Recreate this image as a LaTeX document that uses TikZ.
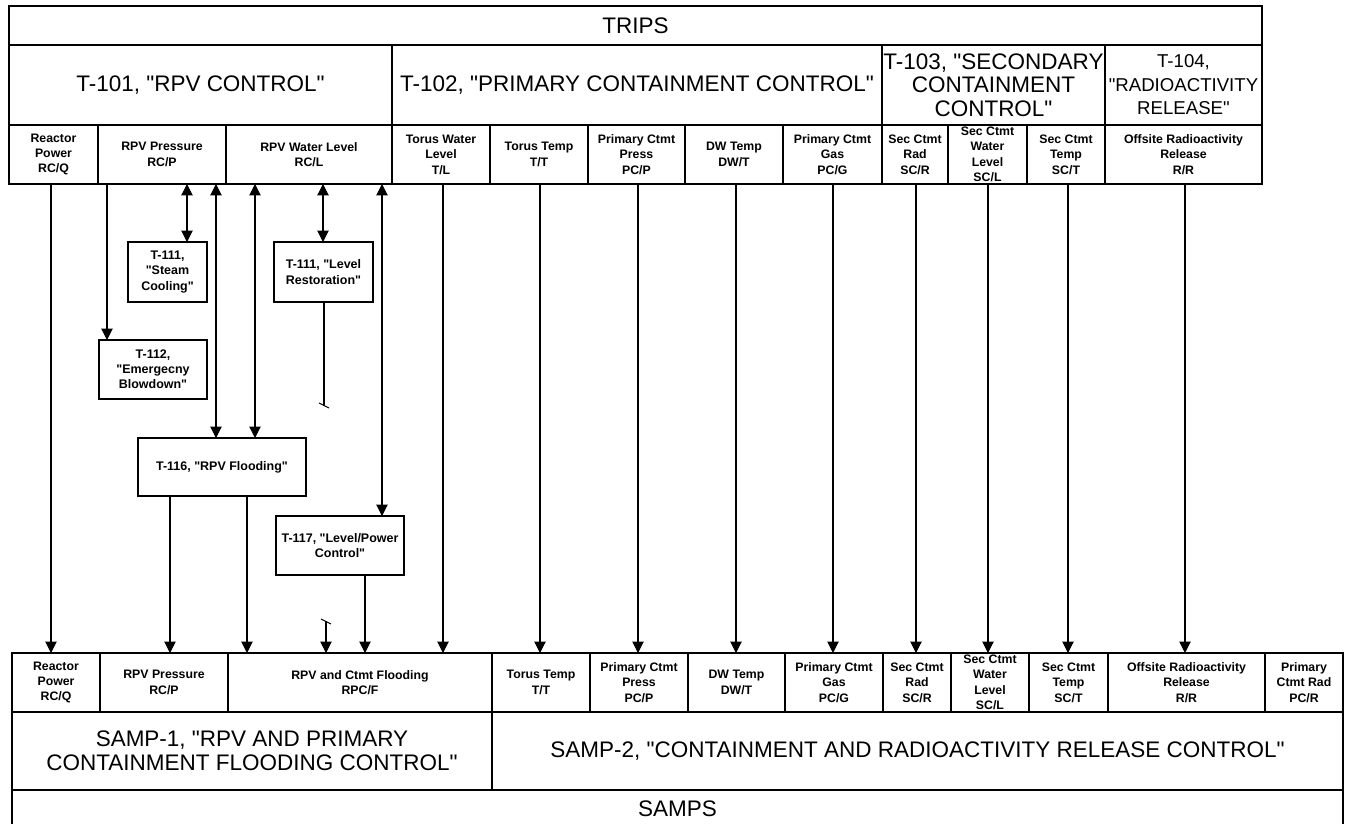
\documentclass[tikz,border=0pt]{standalone}
\usepackage{fontspec}
\setmainfont{Liberation Sans}[Ligatures=TeXOff]
\usetikzlibrary{arrows.meta}
\newcommand{\Cell}[7]{%
  \node[cellb, minimum width={(#5-#3)*0.02cm}, minimum height={(#6-#4)*0.02cm}] (#2) at ({(#3+#5)/2},{(#4+#6)/2}) {};
  \node[#1] (#2-t) at (#2.center) {#7};
}
\tikzset{
 cellb/.style={draw, line width=0.7pt, inner sep=0pt, outer sep=0pt},
 big/.style={font=\fontsize{12.8}{13.4}\selectfont, align=center, inner sep=0pt},
 bigs/.style={font=\fontsize{10.6}{13.4}\selectfont, align=center, inner sep=0pt},
 sm/.style={font=\bfseries\fontsize{7}{8.8}\selectfont, align=center, inner sep=0pt},
 mid/.style={font=\bfseries\fontsize{7.1}{8.6}\selectfont, align=center, inner sep=0pt},
 conn/.style={line width=0.6pt},
 arr/.style={conn, -{Triangle[length=6.5pt,width=6.5pt]}},
 darr/.style={conn, {Triangle[length=6.5pt,width=6.5pt]}-{Triangle[length=6.5pt,width=6.5pt]}},
}
\begin{document}
\begin{tikzpicture}[x=0.02cm, y=-0.02cm]
\useasboundingbox[fill=white] (0,0) rectangle (1347,824);
% ---- top table
\Cell{big}{TRIPS}{9}{6}{1262}{45}{TRIPS}
\Cell{big}{T101}{9}{45}{392}{125}{T-101, "RPV CONTROL"}
\Cell{big}{T102}{392}{45}{882}{125}{T-102, "PRIMARY CONTAINMENT CONTROL"}
\Cell{big}{T103}{882}{45}{1105}{125}{T-103, "SECONDARY\\CONTAINMENT\\CONTROL"}
\Cell{bigs}{T104}{1105}{45}{1262}{125}{T-104,\\"RADIOACTIVITY\\RELEASE"}
\Cell{sm}{RQ}{9}{125}{98}{184}{Reactor\\Power\\RC/Q}
\Cell{sm}{RP}{98}{125}{226}{184}{RPV Pressure\\RC/P}
\Cell{sm}{RL}{226}{125}{392}{184}{RPV Water Level\\RC/L}
\Cell{sm}{TL}{392}{125}{490}{184}{Torus Water\\Level\\T/L}
\Cell{sm}{TT}{490}{125}{588}{184}{Torus Temp\\T/T}
\Cell{sm}{PCP}{588}{125}{685}{184}{Primary Ctmt\\Press\\PC/P}
\Cell{sm}{DWT}{685}{125}{783}{184}{DW Temp\\DW/T}
\Cell{sm}{PCG}{783}{125}{882}{184}{Primary Ctmt\\Gas\\PC/G}
\Cell{sm}{SCR}{882}{125}{948}{184}{Sec Ctmt\\Rad\\SC/R}
\Cell{sm}{SCL}{948}{125}{1027}{184}{Sec Ctmt\\Water\\Level\\SC/L}
\Cell{sm}{SCT}{1027}{125}{1105}{184}{Sec Ctmt\\Temp\\SC/T}
\Cell{sm}{RR}{1105}{125}{1262}{184}{Offsite Radioactivity\\Release\\R/R}
% ---- bottom table
\Cell{sm}{bRQ}{12}{653}{100}{712}{Reactor\\Power\\RC/Q}
\Cell{sm}{bRP}{100}{653}{228}{712}{RPV Pressure\\RC/P}
\Cell{sm}{bFL}{228}{653}{492}{712}{RPV and Ctmt Flooding\\RPC/F}
\Cell{sm}{bTT}{492}{653}{590}{712}{Torus Temp\\T/T}
\Cell{sm}{bPCP}{590}{653}{688}{712}{Primary Ctmt\\Press\\PC/P}
\Cell{sm}{bDWT}{688}{653}{785}{712}{DW Temp\\DW/T}
\Cell{sm}{bPCG}{785}{653}{883}{712}{Primary Ctmt\\Gas\\PC/G}
\Cell{sm}{bSCR}{883}{653}{951}{712}{Sec Ctmt\\Rad\\SC/R}
\Cell{sm}{bSCL}{951}{653}{1029}{712}{Sec Ctmt\\Water\\Level\\SC/L}
\Cell{sm}{bSCT}{1029}{653}{1108}{712}{Sec Ctmt\\Temp\\SC/T}
\Cell{sm}{bRR}{1108}{653}{1265}{712}{Offsite Radioactivity\\Release\\R/R}
\Cell{sm}{bPCR}{1265}{653}{1343}{712}{Primary\\Ctmt Rad\\PC/R}
\Cell{big}{SAMP1}{12}{712}{492}{790}{SAMP-1, "RPV AND PRIMARY\\CONTAINMENT FLOODING CONTROL"}
\Cell{big}{SAMP2}{492}{712}{1343}{790}{SAMP-2, "CONTAINMENT AND RADIOACTIVITY RELEASE CONTROL"}
\Cell{big}{SAMPS}{12}{790}{1343}{828}{SAMPS}
% ---- middle boxes
\Cell{mid}{T111a}{128}{242}{207}{302}{T-111,\\"Steam\\Cooling"}
\Cell{mid}{T111b}{274}{242}{373}{302}{T-111, "Level\\Restoration"}
\Cell{mid}{T112}{99}{340}{207}{399}{T-112,\\"Emergecny\\Blowdown"}
\Cell{mid}{T116}{138}{438}{306}{496}{T-116, "RPV Flooding"}
\Cell{mid}{T117}{276}{516}{404}{575}{T-117, "Level/Power\\Control"}
% ---- column coordinates
\coordinate (xRQ) at (51,0);
\coordinate (xTL) at (443,0);
\coordinate (xTT) at (540,0);
\coordinate (xPCP) at (638,0);
\coordinate (xDWT) at (736,0);
\coordinate (xPCG) at (833,0);
\coordinate (xSCR) at (916,0);
\coordinate (xSCL) at (988,0);
\coordinate (xSCT) at (1068,0);
\coordinate (xRR) at (1185,0);
\coordinate (xA) at (107,0);
\coordinate (xB) at (187,0);
\coordinate (xC) at (216,0);
\coordinate (xD) at (255,0);
\coordinate (xE) at (323,0);
\coordinate (xF) at (382,0);
\coordinate (xH) at (170,0);
\coordinate (xI) at (247,0);
\coordinate (xJ) at (365,0);
\coordinate (brk1) at (324,405);
\coordinate (brk2) at (326,621);
% ---- straight-through connectors
\draw[arr] (xRQ |- RQ.south) -- (xRQ |- bRQ.north);
\draw[arr] (xTL |- TL.south) -- (xTL |- bFL.north);
\draw[arr] (xTT |- TT.south) -- (xTT |- bTT.north);
\draw[arr] (xPCP |- PCP.south) -- (xPCP |- bPCP.north);
\draw[arr] (xDWT |- DWT.south) -- (xDWT |- bDWT.north);
\draw[arr] (xPCG |- PCG.south) -- (xPCG |- bPCG.north);
\draw[arr] (xSCR |- SCR.south) -- (xSCR |- bSCR.north);
\draw[arr] (xSCL |- SCL.south) -- (xSCL |- bSCL.north);
\draw[arr] (xSCT |- SCT.south) -- (xSCT |- bSCT.north);
\draw[arr] (xRR |- RR.south) -- (xRR |- bRR.north);
% ---- RPV control connectors
\draw[arr] (xA |- RP.south) -- (xA |- T112.north);
\draw[darr] (xB |- RP.south) -- (xB |- T111a.north);
\draw[darr] (xC |- RP.south) -- (xC |- T116.north);
\draw[darr] (xD |- RL.south) -- (xD |- T116.north);
\draw[darr] (xE |- RL.south) -- (xE |- T111b.north);
\draw[darr] (xF |- RL.south) -- (xF |- T117.north);
\draw[conn] (brk1 |- T111b.south) -- (brk1);
\draw[conn] (319,403) -- (329,408);
\draw[conn] (321,619) -- (331,624);
\draw[arr] (brk2) -- (brk2 |- bFL.north);
\draw[arr] (xH |- T116.south) -- (xH |- bRP.north);
\draw[arr] (xI |- T116.south) -- (xI |- bFL.north);
\draw[arr] (xJ |- T117.south) -- (xJ |- bFL.north);
\end{tikzpicture}
\end{document}
